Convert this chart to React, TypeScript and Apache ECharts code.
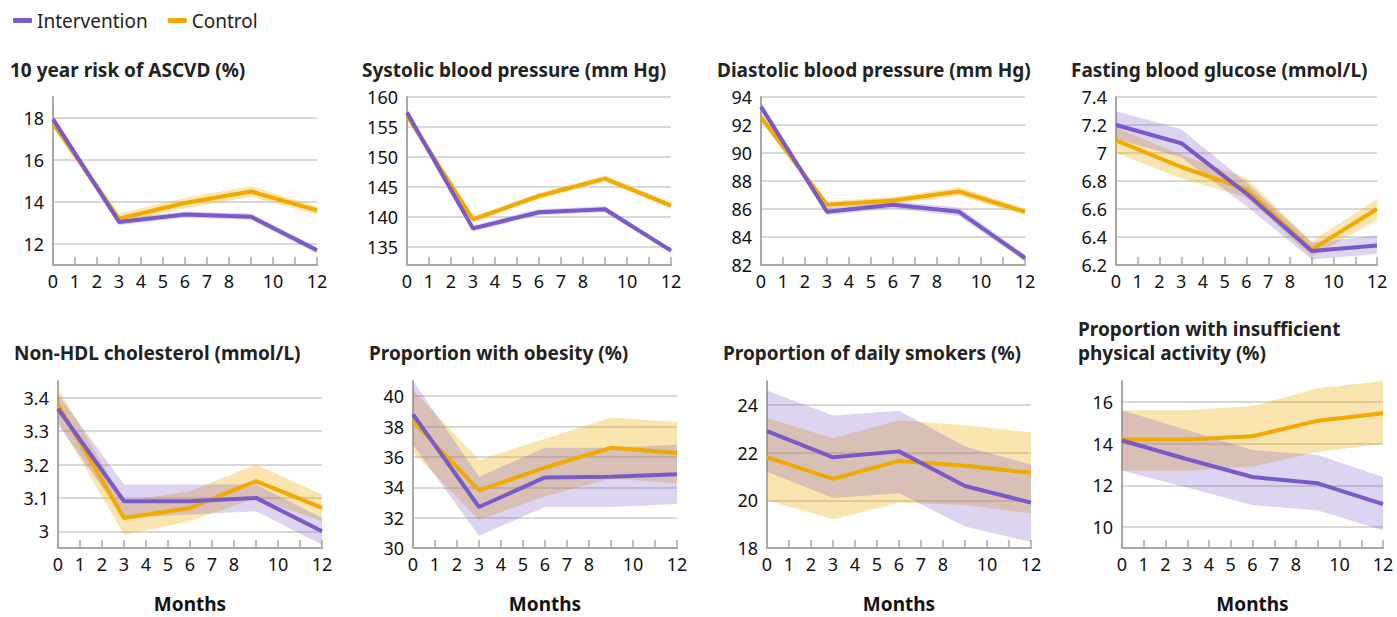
import React, { useEffect, useRef } from "react";
import * as echarts from "echarts";

// ---- shared x values & tick labels ----
const months = [0, 3, 6, 9, 12];
const xTickLabels = [0, 1, 2, 3, 4, 5, 6, 7, 8, 10, 12];
const legendNames = ["Intervention", "Control"];

// ---- 10 year risk of ASCVD (%) ----
const ascvdInt = [17.95, 13.05, 13.4, 13.3, 11.7];
const ascvdIntLo = [17.8, 12.9, 13.25, 13.15, 11.55];
const ascvdIntHi = [18.1, 13.2, 13.55, 13.45, 11.85];
const ascvdCtl = [17.75, 13.2, 13.95, 14.5, 13.6];
const ascvdCtlLo = [17.55, 13.0, 13.7, 14.25, 13.4];
const ascvdCtlHi = [17.95, 13.45, 14.2, 14.75, 13.8];

// ---- Systolic blood pressure (mm Hg) ----
const sbpInt = [157.4, 138.1, 140.8, 141.3, 134.4];
const sbpIntLo = [156.9, 137.6, 140.3, 140.8, 134.0];
const sbpIntHi = [157.9, 138.6, 141.3, 141.8, 134.8];
const sbpCtl = [156.9, 139.6, 143.5, 146.4, 141.9];
const sbpCtlLo = [156.4, 139.1, 143.0, 145.9, 141.4];
const sbpCtlHi = [157.4, 140.1, 144.0, 146.9, 142.4];

// ---- Diastolic blood pressure (mm Hg) ----
const dbpInt = [93.3, 85.8, 86.3, 85.8, 82.5];
const dbpIntLo = [93.0, 85.55, 86.05, 85.5, 82.25];
const dbpIntHi = [93.65, 86.05, 86.55, 86.1, 82.75];
const dbpCtl = [92.55, 86.3, 86.6, 87.25, 85.8];
const dbpCtlLo = [92.25, 86.05, 86.35, 86.95, 85.55];
const dbpCtlHi = [92.85, 86.55, 86.85, 87.55, 86.05];

// ---- Fasting blood glucose (mmol/L) ----
const fbgInt = [7.2, 7.07, 6.71, 6.3, 6.34];
const fbgIntLo = [7.1, 6.97, 6.62, 6.24, 6.28];
const fbgIntHi = [7.3, 7.17, 6.79, 6.36, 6.41];
const fbgCtl = [7.09, 6.9, 6.74, 6.31, 6.6];
const fbgCtlLo = [7.0, 6.82, 6.68, 6.26, 6.52];
const fbgCtlHi = [7.18, 6.99, 6.82, 6.37, 6.67];

// ---- Non-HDL cholesterol (mmol/L) ----
const hdlInt = [3.367, 3.09, 3.09, 3.1, 3.0];
const hdlIntLo = [3.32, 3.04, 3.05, 3.06, 2.96];
const hdlIntHi = [3.41, 3.14, 3.14, 3.14, 3.04];
const hdlCtl = [3.38, 3.04, 3.07, 3.15, 3.07];
const hdlCtlLo = [3.33, 2.99, 3.03, 3.1, 3.03];
const hdlCtlHi = [3.43, 3.09, 3.12, 3.2, 3.11];

// ---- Proportion with obesity (%) ----
const obInt = [38.8, 32.7, 34.65, 34.7, 34.85];
const obIntLo = [36.8, 30.8, 32.7, 32.7, 32.9];
const obIntHi = [41.0, 34.7, 36.6, 36.6, 36.8];
const obCtl = [38.35, 33.8, 35.3, 36.6, 36.25];
const obCtlLo = [36.3, 31.85, 33.4, 34.6, 34.25];
const obCtlHi = [40.4, 35.8, 37.2, 38.6, 38.3];

// ---- Proportion of daily smokers (%) ----
const smInt = [22.9, 21.8, 22.05, 20.6, 19.9];
const smIntLo = [21.2, 20.1, 20.3, 18.9, 18.25];
const smIntHi = [24.6, 23.55, 23.75, 22.25, 21.5];
const smCtl = [21.8, 20.9, 21.65, 21.45, 21.15];
const smCtlLo = [20.0, 19.2, 19.9, 19.8, 19.45];
const smCtlHi = [23.45, 22.6, 23.35, 23.15, 22.85];

// ---- Proportion with insufficient physical activity (%) ----
const paInt = [14.15, 13.25, 12.4, 12.1, 11.1];
const paIntLo = [12.7, 11.9, 11.05, 10.8, 9.85];
const paIntHi = [15.6, 14.65, 13.7, 13.45, 12.4];
const paCtl = [14.2, 14.2, 14.35, 15.1, 15.45];
const paCtlLo = [12.7, 12.7, 12.9, 13.6, 14.0];
const paCtlHi = [15.6, 15.6, 15.8, 16.65, 17.0];

// ---- panel titles (one entry per line) and y scales ----
const titleLines = [
  ["10 year risk of ASCVD (%)"],
  ["Systolic blood pressure (mm Hg)"],
  ["Diastolic blood pressure (mm Hg)"],
  ["Fasting blood glucose (mmol/L)"],
  ["Non-HDL cholesterol (mmol/L)"],
  ["Proportion with obesity (%)"],
  ["Proportion of daily smokers (%)"],
  ["Proportion with insufficient", "physical activity (%)"],
];
const yMins = [11, 132, 82, 6.2, 2.95, 30, 18, 9];
const yMaxs = [19, 160, 94, 7.4, 3.45, 41, 25, 17];
const yLabelSteps = [2, 5, 2, 0.2, 0.1, 2, 2, 2];
const ySubSteps = [1, 1, 2, 0.2, 0.05, 1, 1, 1];

const panelData = [
  [ascvdInt, ascvdIntLo, ascvdIntHi, ascvdCtl, ascvdCtlLo, ascvdCtlHi],
  [sbpInt, sbpIntLo, sbpIntHi, sbpCtl, sbpCtlLo, sbpCtlHi],
  [dbpInt, dbpIntLo, dbpIntHi, dbpCtl, dbpCtlLo, dbpCtlHi],
  [fbgInt, fbgIntLo, fbgIntHi, fbgCtl, fbgCtlLo, fbgCtlHi],
  [hdlInt, hdlIntLo, hdlIntHi, hdlCtl, hdlCtlLo, hdlCtlHi],
  [obInt, obIntLo, obIntHi, obCtl, obCtlLo, obCtlHi],
  [smInt, smIntLo, smIntHi, smCtl, smCtlLo, smCtlHi],
  [paInt, paIntLo, paIntHi, paCtl, paCtlLo, paCtlHi],
];

// layout (px)
const gridBoxes = [
  { left: 53, top: 97, width: 264, height: 168 },
  { left: 407, top: 97, width: 264, height: 168 },
  { left: 761, top: 97, width: 264, height: 168 },
  { left: 1116, top: 97, width: 261, height: 168 },
  { left: 58, top: 381, width: 264, height: 167 },
  { left: 413, top: 381, width: 264, height: 167 },
  { left: 767, top: 381, width: 264, height: 167 },
  { left: 1122, top: 381, width: 261, height: 167 },
];
const titlePos = [
  { left: 10, top: 59 },
  { left: 362, top: 59 },
  { left: 717, top: 59 },
  { left: 1071, top: 59 },
  { left: 14, top: 342 },
  { left: 369, top: 342 },
  { left: 723, top: 342 },
  { left: 1078, top: 318 },
];

const PURPLE = "#7a5ac8";
const YELLOW = "#f0aa00";
const PURPLE_BAND = "rgba(122,90,200,0.26)";
const YELLOW_BAND = "rgba(240,170,0,0.31)";
const GRID = "#cccccc";
const AXIS = "#a8a8a8";
const FONT = "Noto Sans";

function isMultiple(v: number, step: number) {
  const r = v / step;
  return Math.abs(r - Math.round(r)) < 1e-6;
}

function bandRenderer(fill: string) {
  return (params: any, api: any) => {
    if (params.dataIndexInside !== 0) return null;
    const n = params.dataInsideLength;
    const upper: number[][] = [];
    const lower: number[][] = [];
    for (let k = 0; k < n; k++) {
      const x = api.value(0, k);
      upper.push(api.coord([x, api.value(2, k)]));
      lower.push(api.coord([x, api.value(1, k)]));
    }
    return {
      type: "polygon",
      silent: true,
      shape: { points: upper.concat(lower.reverse()) },
      style: { fill },
    };
  };
}

function buildOption() {
  const grid: any[] = [];
  const xAxis: any[] = [];
  const yAxis: any[] = [];
  const series: any[] = [];
  const title: any[] = [];

  for (let i = 0; i < 8; i++) {
    grid.push({ ...gridBoxes[i], containLabel: false });
    titleLines[i].forEach((line, li) => {
      title.push({
        text: line,
        left: titlePos[i].left,
        top: titlePos[i].top + li * 24,
        padding: 0,
        textStyle: {
          fontFamily: FONT,
          fontWeight: "bold",
          fontSize: 19,
          lineHeight: 21,
          color: "#222",
        },
      });
    });
    xAxis.push({
      type: "value",
      gridIndex: i,
      min: 0,
      max: 12,
      interval: 1,
      name: i >= 4 ? "Months" : "",
      nameLocation: "middle",
      nameGap: 46,
      nameTextStyle: {
        fontFamily: FONT,
        fontWeight: "bold",
        fontSize: 19,
        lineHeight: 20,
        color: "#111",
      },
      axisLine: { show: true, lineStyle: { color: AXIS, width: 2 } },
      axisTick: { show: true, inside: true, length: 8, lineStyle: { color: AXIS, width: 1.5 } },
      splitLine: { show: false },
      axisLabel: {
        fontFamily: FONT,
        fontSize: 18,
        color: "#111",
        margin: 7,
        showMinLabel: true,
        showMaxLabel: true,
        formatter: (v: number) => (xTickLabels.includes(v) ? String(v) : ""),
      },
    });
    const min = yMins[i];
    const step = yLabelSteps[i];
    const sub = ySubSteps[i];
    const n = Math.round(step / sub);
    const colors: string[] = [];
    for (let k = 0; k < n; k++) {
      colors.push(isMultiple(min + k * sub, step) ? GRID : "rgba(0,0,0,0)");
    }
    yAxis.push({
      type: "value",
      gridIndex: i,
      min,
      max: yMaxs[i],
      interval: sub,
      axisLine: { show: true, lineStyle: { color: AXIS, width: 2 } },
      axisTick: { show: false },
      splitLine: { show: true, lineStyle: { color: colors, width: 1.5 } },
      axisLabel: {
        fontFamily: FONT,
        fontSize: 18,
        color: "#111",
        margin: 9,
        showMinLabel: true,
        showMaxLabel: true,
        formatter: (v: number) => (isMultiple(v, step) ? String(+v.toFixed(2)) : ""),
      },
    });

    const [iM, iL, iH, cM, cL, cH] = panelData[i];
    const groups = [
      { name: "Control", mean: cM, lo: cL, hi: cH, color: YELLOW, band: YELLOW_BAND },
      { name: "Intervention", mean: iM, lo: iL, hi: iH, color: PURPLE, band: PURPLE_BAND },
    ];
    // confidence bands
    for (const g of groups) {
      series.push({
        type: "custom",
        name: "ci",
        xAxisIndex: i,
        yAxisIndex: i,
        silent: true,
        encode: { x: 0, y: [1, 2] },
        data: months.map((m, j) => [m, g.lo[j], g.hi[j]]),
        renderItem: bandRenderer(g.band),
        z: 1,
      });
    }
    // mean lines
    for (const g of groups) {
      series.push({
        type: "line",
        name: g.name,
        xAxisIndex: i,
        yAxisIndex: i,
        data: months.map((m, j) => [m, g.mean[j]]),
        symbol: "none",
        lineStyle: { color: g.color, width: 4 },
        itemStyle: { color: g.color },
        z: 3,
      });
    }
  }

  return {
    animation: false,
    backgroundColor: "#ffffff",
    title,
    legend: {
      data: legendNames.map((n) => ({ name: n, icon: "roundRect" })),
      left: 13,
      top: 11,
      itemWidth: 19,
      itemHeight: 5,
      itemGap: 20,
      padding: 0,
      textStyle: { fontFamily: FONT, fontSize: 19, color: "#222" },
      selectedMode: false,
    },
    grid,
    xAxis,
    yAxis,
    series,
  };
}

export default function App() {
  const ref = useRef<HTMLDivElement>(null);
  useEffect(() => {
    if (!ref.current) return;
    const chart = echarts.init(ref.current, undefined, { renderer: "svg" });
    chart.setOption(buildOption() as any);
    return () => chart.dispose();
  }, []);
  return (
    <div
      ref={ref}
      style={{ position: "fixed", left: 0, top: 0, width: 1397, height: 617, background: "#fff" }}
    />
  );
}
